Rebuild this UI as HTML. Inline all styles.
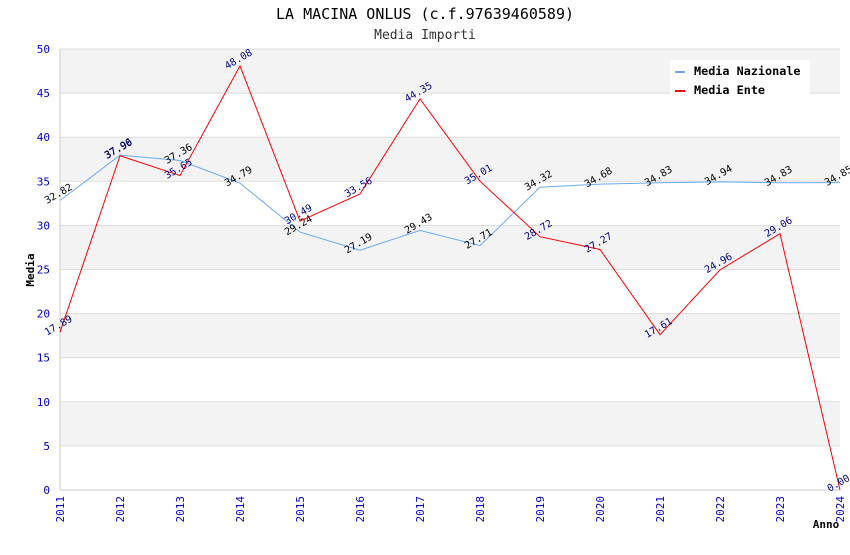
<!DOCTYPE html>
<html><head><meta charset="utf-8"><style>
body{margin:0;background:#fff}
svg text{font-family:"DejaVu Sans Mono","Liberation Mono",monospace}
</style></head><body>
<svg id="c" width="850" height="550" xmlns="http://www.w3.org/2000/svg">
<text x="425" y="19" text-anchor="middle" font-size="15" fill="#000">LA MACINA ONLUS (c.f.97639460589)</text>
<text x="425" y="39" text-anchor="middle" font-size="13" fill="#333">Media Importi</text>
<g id="bands"></g><g id="axes"></g><g id="series"></g>
<text x="34" y="270" font-size="11" font-weight="bold" text-anchor="middle" transform="rotate(-90 34 270)">Media</text>
<text x="826" y="528" font-size="11" font-weight="bold" text-anchor="middle">Anno</text>
<g>
<rect x="670" y="60" width="140" height="36" fill="#fff"/>
<rect x="675" y="71" width="10" height="2" fill="#6aaaf0"/>
<text x="694" y="75" font-size="11.8" font-weight="bold">Media Nazionale</text>
<rect x="675" y="90" width="10" height="2" fill="#ff0000"/>
<text x="694" y="94" font-size="11.8" font-weight="bold">Media Ente</text>
</g>
</svg>
<script>
const years=[2011,2012,2013,2014,2015,2016,2017,2018,2019,2020,2021,2022,2023,2024];
const nazionale=[32.82,37.96,37.36,34.79,29.24,27.19,29.43,27.71,34.32,34.68,34.83,34.94,34.83,34.85];
const ente=[17.89,37.90,35.65,48.08,30.49,33.56,44.35,35.01,28.72,27.27,17.61,24.96,29.06,0.00];
const yTicks=[0,5,10,15,20,25,30,35,40,45,50];
const NS="http://www.w3.org/2000/svg";
const X0=60,X1=840,Y0=490,Y1=49;
const xs=i=>X0+(X1-X0)*i/(years.length-1);
const ys=v=>Y0-(Y0-Y1)*v/50;
function mk(t,a,p){const e=document.createElementNS(NS,t);for(const k in a)e.setAttribute(k,a[k]);p.appendChild(e);return e;}
const bands=document.getElementById('bands'),axes=document.getElementById('axes'),ser=document.getElementById('series');
for(let i=0;i<yTicks.length-1;i++){
 const r=mk('rect',{x:X0,y:ys(yTicks[i+1]),width:X1-X0,height:ys(yTicks[i])-ys(yTicks[i+1]),fill:(i%2==1)?'#f3f3f3':'#fff'},bands);
 
 
}
yTicks.forEach(v=>{
 const l=mk('line',{x1:X0,x2:X1,y1:ys(v),y2:ys(v),stroke:'#ddd'},axes);
 
 
 const t=mk('text',{x:X0-10,y:ys(v)+4,'text-anchor':'end','font-size':11,fill:'#0000cc'},axes);
 t.textContent=v;
 
 
});
mk('line',{x1:X0,x2:X0,y1:Y1,y2:Y0,stroke:'#ccc'},axes);
mk('line',{x1:X0,x2:X1,y1:Y0,y2:Y0,stroke:'#ccc'},axes);
years.forEach((y,i)=>{
 const x=xs(i);
 const t=mk('text',{x:x+4,y:Y0+6,'text-anchor':'end','font-size':11,fill:'#0000cc',transform:`rotate(-90 ${x+4} ${Y0+6})`},axes);
 t.textContent=y;
 
 
});
function series(vals,color,lc,name){
 const p=mk('polyline',{points:vals.map((v,i)=>xs(i)+','+ys(v)).join(' '),fill:'none',stroke:color,'stroke-width':1},ser);
 
 
 vals.forEach((v,i)=>{
  const x=xs(i),y=ys(v)-4;
  const t=mk('text',{x:x,y:y,'text-anchor':'middle','font-size':10,fill:lc,transform:`rotate(-30 ${x} ${y})`},ser);
  t.textContent=v.toFixed(2);
  
  
 });
}
series(nazionale,'#6aaaf0','#000','nazionale');
series(ente,'#ff0000','#00008b','ente');
</script>
</body></html>
